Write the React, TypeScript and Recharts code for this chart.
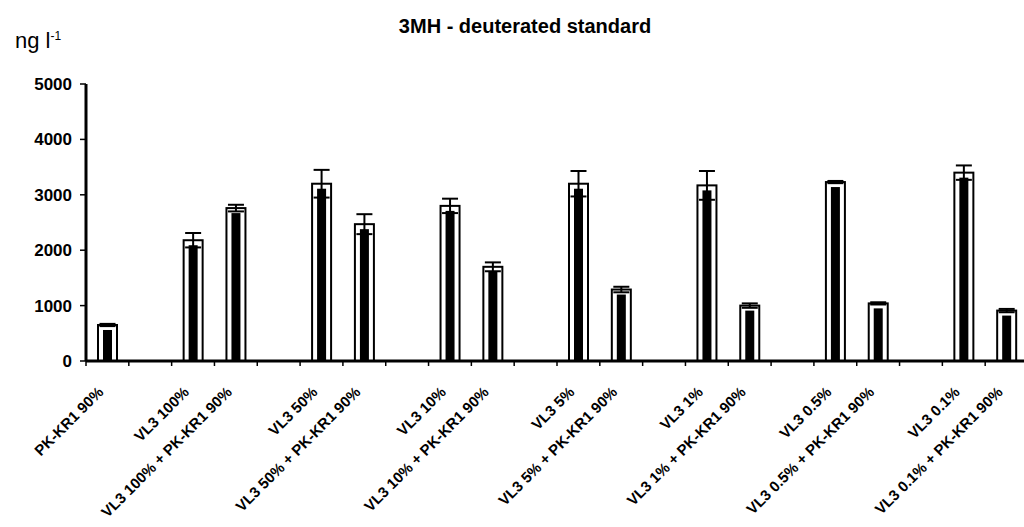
import React from 'react';
import { BarChart, Bar, XAxis, YAxis, ErrorBar } from 'recharts';

// blank entries are the empty slots between the sample pairs
const categories = [
  'PK-KR1 90%',
  '',
  'VL3 100%',
  'VL3 100% + PK-KR1 90%',
  '',
  'VL3 50%',
  'VL3 50% + PK-KR1 90%',
  '',
  'VL3 10%',
  'VL3 10% + PK-KR1 90%',
  '',
  'VL3 5%',
  'VL3 5% + PK-KR1 90%',
  '',
  'VL3 1%',
  'VL3 1% + PK-KR1 90%',
  '',
  'VL3 0.5%',
  'VL3 0.5% + PK-KR1 90%',
  '',
  'VL3 0.1%',
  'VL3 0.1% + PK-KR1 90%',
];
const means = [
  650, null, 2180, 2760, null, 3200, 2470, null, 2800, 1700, null, 3200, 1290,
  null, 3170, 1000, null, 3230, 1040, null, 3400, 910,
];
const errors = [
  20, null, 130, 60, null, 250, 180, null, 130, 80, null, 230, 50, null, 260,
  40, null, 20, 20, null, 130, 30,
];
const yTicks = [0, 1000, 2000, 3000, 4000, 5000];

const data = categories.map((name, i) => ({
  id: i,
  name,
  mean: means[i],
  err: errors[i] ?? 0,
}));

const FONT = '"Liberation Sans", Arial, sans-serif';
const CHART_W = 1030;
const Y_AXIS_W = 86;
const MARGIN = { top: 84, right: 2, left: 0, bottom: 8 };
const BAND = (CHART_W - MARGIN.right - MARGIN.left - Y_AXIS_W) / categories.length;

const FramedBar = (props: any) => {
  const { x, y, width, height } = props;
  if (!height || height <= 0) return null;
  return (
    <g>
      <rect x={x} y={y} width={width} height={height} fill="#fff" stroke="#000" strokeWidth={2} />
      <rect x={x + 5} y={y + 5} width={width - 10} height={Math.max(height - 5, 0)} fill="#000" />
    </g>
  );
};

const CategoryTick = (props: any) => {
  const { x, y, payload, index } = props;
  const label = categories[payload.value] || '';
  return (
    <g>
      <line x1={x - BAND / 2} x2={x - BAND / 2} y1={y} y2={y + 5} stroke="#000" strokeWidth={1.5} />
      {index === categories.length - 1 && (
        <line x1={x + BAND / 2} x2={x + BAND / 2} y1={y} y2={y + 5} stroke="#000" strokeWidth={1.5} />
      )}
      {label && (
        <text
          transform={`translate(${x - 3},${y + 32}) rotate(-45)`}
          textAnchor="end"
          fontSize={15}
          fontWeight="bold"
          fontFamily={FONT}
          fill="#000"
        >
          {label}
        </text>
      )}
    </g>
  );
};

export default function App() {
  return (
    <div
      style={{
        position: 'fixed',
        left: 0,
        top: 0,
        width: 1024,
        height: 527,
        overflow: 'hidden',
        background: '#fff',
      }}
    >
      <svg
        width={1024}
        height={70}
        style={{ position: 'absolute', left: 0, top: 0 }}
      >
        <text x={525} y={33} textAnchor="middle" fontSize={20} fontWeight="bold" fontFamily={FONT} fill="#000">
          3MH - deuterated standard
        </text>
        <text x={15} y={48} fontSize={22} fontFamily={FONT} fill="#000">
          ng l
          <tspan dy={-8} fontSize={12}>
            -1
          </tspan>
        </text>
      </svg>
      <BarChart width={CHART_W} height={527} data={data} margin={MARGIN}>
        <XAxis
          dataKey="id"
          type="category"
          height={158}
          interval={0}
          tickSize={0}
          tickMargin={0}
          tickLine={false}
          axisLine={{ stroke: '#000', strokeWidth: 3 }}
          tick={<CategoryTick />}
        />
        <YAxis
          width={Y_AXIS_W}
          domain={[0, 5000]}
          ticks={yTicks}
          interval={0}
          tickSize={6}
          tickMargin={8}
          axisLine={{ stroke: '#000', strokeWidth: 3 }}
          tickLine={{ stroke: '#000', strokeWidth: 1.5 }}
          tick={{ fontSize: 17, fontWeight: 'bold', fontFamily: FONT, fill: '#000' }}
        />
        <Bar dataKey="mean" barSize={19} shape={<FramedBar />} isAnimationActive={false}>
          <ErrorBar dataKey="err" width={8} stroke="#000" strokeWidth={2} direction="y" />
        </Bar>
      </BarChart>
    </div>
  );
}
